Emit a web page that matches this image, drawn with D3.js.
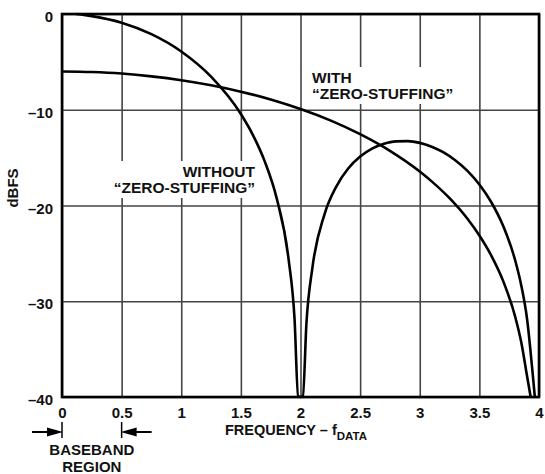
<!DOCTYPE html>
<html>
<head>
<meta charset="utf-8">
<script src="https://cdn.jsdelivr.net/npm/d3@7"></script>
<style>
  body { margin: 0; background: #fff; }
  svg text { font-family: "Liberation Sans", Arial, Helvetica, sans-serif; font-weight: bold; fill: #111; }
</style>
</head>
<body>
<svg id="main" width="545" height="474"></svg>
<script>
// curve that starts at 0 dB, null at 2, side lobe, null at 4
var freqA = [0.12, 0.25, 0.5, 0.75, 1.0, 1.25, 1.5, 1.6, 1.7, 1.8, 1.9, 1.95, 1.98, 2.0, 2.02, 2.05, 2.1, 2.2, 2.3, 2.4, 2.5, 2.6, 2.7, 2.8, 2.9, 3.0, 3.1, 3.2, 3.3, 3.4, 3.5, 3.6, 3.7, 3.8, 3.85, 3.9, 3.95, 3.965];
var dbA   = [0, -0.22, -0.91, -2.11, -3.92, -6.55, -10.45, -12.62, -15.39, -19.23, -25.61, -31.83, -39.9, -40, -39.9, -32.26, -26.48, -20.97, -18.02, -16.14, -14.89, -14.06, -13.55, -13.3, -13.28, -13.46, -13.86, -14.46, -15.3, -16.39, -17.81, -19.66, -22.15, -25.72, -28.27, -31.86, -37.96, -40];

// curve that starts at -6 dB and rolls off to -40 near 4
var freqB = [0, 0.25, 0.5, 0.75, 1.0, 1.25, 1.5, 1.75, 2.0, 2.25, 2.5, 2.75, 3.0, 3.1, 3.25, 3.4, 3.5, 3.6, 3.7, 3.8, 3.85, 3.9, 3.93];
var dbB   = [-6, -6.06, -6.22, -6.51, -6.91, -7.44, -8.11, -8.93, -9.92, -11.11, -12.55, -14.29, -16.45, -17.48, -19.24, -21.39, -23.13, -25.23, -27.9, -31.61, -34.21, -37.83, -40];

var xTicks = [0, 0.5, 1, 1.5, 2, 2.5, 3, 3.5, 4];
var xTickLabels = ["0", "0.5", "1", "1.5", "2", "2.5", "3", "3.5", "4"];
var yTicks = [0, -10, -20, -30, -40];
var yTickLabels = ["0", "\u201310", "\u201320", "\u201330", "\u201340"];

var svg = d3.select("#main");
var pLeft = 62, pRight = 539, pTop = 14, pBottom = 397;

var x = d3.scaleLinear().domain([0, 4]).range([pLeft, pRight]);
var y = d3.scaleLinear().domain([0, -40]).range([pTop, pBottom]);

// grid
svg.append("g").attr("transform", "translate(0," + pBottom + ")")
    .call(d3.axisBottom(x).tickValues(xTicks).tickSize(-(pBottom - pTop)).tickFormat(""));
svg.append("g").attr("transform", "translate(" + pLeft + ",0)")
    .call(d3.axisLeft(y).tickValues(yTicks).tickSize(-(pRight - pLeft)).tickFormat(""));
svg.selectAll(".domain").remove();
svg.selectAll(".tick line").attr("stroke", "#444").attr("stroke-width", 1.6);

// tick labels
var lx = svg.append("g").attr("transform", "translate(0," + pBottom + ")")
    .call(d3.axisBottom(x).tickValues(xTicks).tickSize(0).tickPadding(10)
        .tickFormat(function(d, i){ return xTickLabels[i]; }));
lx.select(".domain").remove();
lx.selectAll("text").style("font-size", "15px").attr("fill", "#111");

var ly = svg.append("g").attr("transform", "translate(" + pLeft + ",0)")
    .call(d3.axisLeft(y).tickValues(yTicks).tickSize(0).tickPadding(9)
        .tickFormat(function(d, i){ return yTickLabels[i]; }));
ly.select(".domain").remove();
ly.selectAll("text").style("font-size", "15px").attr("fill", "#111").attr("dy", "0.5em");

// curve labels with white background
function label(lines, xs, ys, anchor){
    var g = svg.append("g");
    var t = g.append("text").attr("text-anchor", anchor).style("font-size", "15.5px");
    lines.forEach(function(s, i){
        t.append("tspan").attr("x", xs).attr("y", ys + i * 16).text(s);
    });
    var b = t.node().getBBox();
    g.insert("rect", "text")
        .attr("x", b.x - 4).attr("y", b.y - 2)
        .attr("width", b.width + 8).attr("height", b.height + 4)
        .attr("fill", "#fff");
}
label(["WITH", "\u201CZERO-STUFFING\u201D"], 312, 83, "start");
label(["WITHOUT", "\u201CZERO-STUFFING\u201D"], 255, 177, "end");

// curves
var line = d3.line()
    .x(function(d){ return x(d[0]); })
    .y(function(d){ return y(d[1]); })
    .curve(d3.curveMonotoneX);

svg.append("path").datum(d3.zip(freqA, dbA))
    .attr("d", line).attr("fill", "none").attr("stroke", "#000").attr("stroke-width", 2.6);
svg.append("path").datum(d3.zip(freqB, dbB))
    .attr("d", line).attr("fill", "none").attr("stroke", "#000").attr("stroke-width", 2.6);

// frame
svg.append("rect")
    .attr("x", pLeft).attr("y", pTop)
    .attr("width", pRight - pLeft).attr("height", pBottom - pTop)
    .attr("fill", "none").attr("stroke", "#000").attr("stroke-width", 2.6);

// axis titles
var ft = svg.append("text").attr("x", 225).attr("y", 435)
    .attr("text-anchor", "start").style("font-size", "14.5px");
ft.append("tspan").text("FREQUENCY \u2013 f");
ft.append("tspan").attr("dy", 5).style("font-size", "11.5px").text("DATA");

svg.append("text").attr("transform", "translate(18,188) rotate(-90)")
    .attr("text-anchor", "middle").style("font-size", "15px").text("dBFS");

// baseband region markers
var ay = 432;
[x(0), x(0.5)].forEach(function(px, i){
    svg.append("line").attr("x1", px).attr("x2", px).attr("y1", 422).attr("y2", 438)
        .attr("stroke", "#000").attr("stroke-width", 1.5);
    var dir = i === 0 ? -1 : 1;
    svg.append("line").attr("x1", px + dir * 30).attr("x2", px + dir * 12)
        .attr("y1", ay).attr("y2", ay).attr("stroke", "#000").attr("stroke-width", 2);
    svg.append("path")
        .attr("d", "M" + (px - dir * 1) + "," + ay + "L" + (px + dir * 15) + "," + (ay - 4.5) + "L" + (px + dir * 15) + "," + (ay + 4.5) + "Z")
        .attr("fill", "#000");
});
svg.append("text").attr("x", (x(0) + x(0.5)) / 2).attr("y", 455)
    .attr("text-anchor", "middle").style("font-size", "15px").text("BASEBAND");
svg.append("text").attr("x", (x(0) + x(0.5)) / 2).attr("y", 472)
    .attr("text-anchor", "middle").style("font-size", "15px").text("REGION");
</script>
</body>
</html>
